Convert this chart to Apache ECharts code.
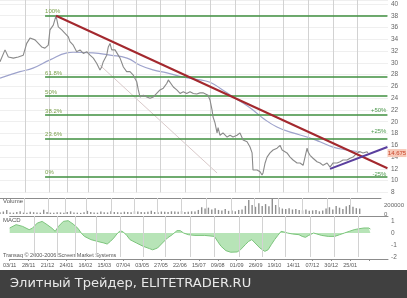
<!DOCTYPE html>
<html><head><meta charset="utf-8">
<script src="https://cdn.jsdelivr.net/npm/echarts@6/dist/echarts.min.js"></script>
<style>html,body{margin:0;padding:0;background:#fff}#c{width:407px;height:298px}</style>
</head><body><div id="c"></div>
<script>
// ---- data (x in trading days) ----
const dateLabels = ['03/11','28/11','21/12','24/01','16/02','15/03','07/04','03/05','27/05','22/06','15/07','09/08','01/09','26/09','19/10','14/11','07/12','30/12','25/01'];
const monthStarts = [21.9,43.2,58.5,77.4,99.3,119.8,140.2,162.1,184.0,206.0,227.0,248.0,269.9,291.8,312.9];
const priceDays = [0,4.4,7.3,11.7,16,20.4,23.4,26.3,30.7,33.6,36.5,39.4,42.3,43.8,46.7,49.1,51.1,54.1,57,59.9,61.3,64.2,67.2,70.1,73,76,78.9,81.8,84.8,87.6,89.1,90.5,93.5,94.9,96.4,97.9,100.8,102.3,105.2,108.1,111,113.9,116.8,119.8,121.2,122.7,125.6,128.6,131.5,134.4,137.3,140.2,143.1,146.1,147.5,149,151.9,154.9,157.8,160.6,163.6,166.5,169.4,172.4,175.3,177.9,182.3,184,185.8,186.7,188.4,190.2,191.1,192.8,195.4,199,201.6,204.2,207.7,210.3,213,216.5,219.1,220.9,221.7,225.2,226.1,227.9,229.6,230.5,232.3,234,236.6,239.3,242.8,245.4,247.2,248,251.5,254.2,256.8,260.3,262.9,265.6,269.1,269.9,271.7,274.3,277.8,280.5,283.1,286.6,289.2,291.9,295.4,298,300.6,304.1,306.7,309.4,312.9,315.5,318.1,321.6,322.5];
const priceValues = [30.2,32.2,31.0,30.8,31.0,31.3,33.3,34.2,33.9,33.3,32.7,32.5,33.0,35.6,36.4,38.0,36.1,35.6,35.0,34.4,33.6,33.0,31.9,32.2,31.6,31.9,31.3,30.8,29.9,28.8,29.3,30.2,31.3,32.7,33.3,32.2,32.2,31.9,30.8,29.3,28.5,28.5,27.9,26.8,25.4,24.2,24.5,24.2,24.0,24.2,24.8,25.4,25.7,26.5,27.1,26.8,25.9,25.4,24.8,25.1,24.8,25.1,24.8,24.7,24.9,24.9,24.5,23.7,22.0,20.8,19.8,18.1,19.0,17.7,18.1,17.4,17.7,17.4,17.7,18.1,16.9,16.6,15.7,14.7,11.8,11.8,12.1,11.5,10.95,11.3,13.0,14.0,14.7,15.2,15.5,16.0,15.2,14.9,14.7,14.0,13.5,13.0,13.0,12.6,15.5,14.9,14.3,13.8,13.2,13.0,12.6,13.0,12.3,13.0,13.0,13.2,13.5,13.5,13.8,14.0,14.7,14.9,14.7,14.9,14.7];
const maDays = [0,17.5,28.9,43.8,58.7,64,81.5,96.4,111.3,122.7,134.1,146.3,160.4,175.3,184,192.8,204.2,212.9,221.7,230.5,242.7,256.7,269,280.4,291.8,304.1,315.5];
const maValues = [27.4,28.5,29.1,30.5,31.7,31.8,31.7,31.3,30.8,29.6,28.8,28.3,27.6,27.1,26.7,25.7,24.2,23.2,22.0,20.6,19.1,18.1,17.4,16.6,15.7,15.2,14.9];
const fibNames = ['100%','61.8%','50%','38.2%','23.6%','0%'];
const fibLevels = [38.0,27.57,24.35,21.13,17.14,10.7];
const fibStartDay = 39.5, lineEndDay = 339.5;
const targetNames = ['+50%','+25%','-25%'];
const targetLevels = [22.0,18.34,11.0];
const lastPrice = 14.675;
const redTrend = [[49.1,38.0],[339.5,12.1]];
const purpleTrend = [[289.2,12.0],[339.5,15.7]];
const thinLine = [[87.6,29.6],[190.2,11.3]];
const volumeStep = 3;
const volumeK = [40,55,90,35,30,45,60,30,25,50,40,35,30,95,45,30,25,40,35,30,45,60,35,30,25,40,70,45,35,30,55,40,35,60,45,40,35,50,45,40,60,55,45,40,50,70,45,40,55,50,45,60,55,50,65,45,50,60,55,
 90,150,120,140,100,130,90,80,110,70,80,60,90,100,180,310,200,160,240,180,220,170,340,200,150,120,110,130,100,110,90,80,100,70,80,90,60,80,120,150,100,180,140,110,170,200,160,130,120];
const macdDays = [0,5.8,11.7,17.5,20.4,24.8,29.2,33.6,38,40.9,43.8,48.2,52.6,57,61.3,64.3,67.2,73,78.9,84.7,87.6,90.5,93.5,96.4,99.3,102.2,105.2,108.1,113.9,119.8,125.6,128.5,132.9,137.3,141.7,146.1,150.4,153.3,156.3,160.6,166.5,175.3,184,186.9,189.9,194.3,198.6,204.4,207.4,211.8,214.7,217.6,220.5,224.9,229.3,232.2,235.1,238.1,241,243.9,246.8,249.7,254.1,260,262.9,265.8,268.7,273.1,276,280.4,286.3,292.1,296.5,300.8,305.2,309.6,314,318.4,322.7,324.2];
const macdValues = [0.42,0.7,0.55,0.28,0.4,0.83,0.97,0.7,0.4,0.14,0.55,0.97,1.03,0.75,0.4,0,-0.28,-0.55,-0.7,-0.83,-0.92,-0.7,-0.42,-0.08,0.2,0.08,-0.2,-0.55,-0.83,-1.1,-1.3,-1.4,-1.25,-0.83,-0.42,-0.14,0.2,0.2,0,-0.14,-0.2,-0.2,-0.28,-0.7,-1.1,-1.47,-1.6,-1.58,-1.4,-0.97,-0.7,-0.55,-0.83,-1.25,-1.53,-1.4,-0.97,-0.55,-0.2,0.14,0.08,0,-0.08,-0.14,-0.28,-0.36,-0.2,0,-0.08,-0.2,-0.28,-0.28,-0.14,0,0.14,0.28,0.36,0.42,0.42,0.33];

// ---- chart ----
const zip = (a,b)=>a.map((d,i)=>[d,b[i]]);
const XMAX = 340, LABEL_STEP = 17;
const FONT = 'Liberation Sans';
const chart = echarts.init(document.getElementById('c'));
const hiddenX = (grid)=>({type:'value',gridIndex:grid,min:0,max:XMAX,interval:LABEL_STEP,show:false});
const lineX = (grid,pos)=>({type:'value',gridIndex:grid,min:0,max:XMAX,interval:LABEL_STEP,position:pos,
  axisLine:{show:true,onZero:false,lineStyle:{color:'#8c8c8c',width:1}},axisTick:{show:false},axisLabel:{show:false},splitLine:{show:false}});
const vlines = (xi,yi)=>({type:'line',xAxisIndex:xi,yAxisIndex:yi,data:[],silent:true,z:1,
  markLine:{silent:true,symbol:['none','none'],label:{show:false},animation:false,
    lineStyle:{color:'#d2d2d2',width:1,type:'solid'},data:monthStarts.map(d=>({xAxis:d}))}});
const axLabel = {fontSize:6.5,color:'#666',fontFamily:FONT,margin:3,showMaxLabel:false,formatter:v=>String(v)};

chart.setOption({
  animation:false,
  backgroundColor:'#fff',
  grid:[
    {left:0,right:19,top:0,height:192.4},
    {left:0,right:19,top:198,height:16},
    {left:0,right:19,top:216,height:41}
  ],
  xAxis:[
    hiddenX(0),
    lineX(1,'top'),
    lineX(2,'top'),
    {type:'value',gridIndex:2,min:0,max:XMAX,interval:LABEL_STEP,position:'bottom',offset:2,
      axisLine:{show:true,onZero:false,lineStyle:{color:'#8c8c8c'}},axisTick:{show:true,length:2,lineStyle:{color:'#8c8c8c'}},
      splitLine:{show:false},
      axisLabel:{fontSize:5.5,color:'#555',fontFamily:FONT,margin:3,showMaxLabel:false,hideOverlap:false,
        formatter:v=>dateLabels[Math.round(v/LABEL_STEP)]||''}}
  ],
  yAxis:[
    {type:'value',gridIndex:0,position:'right',min:8,max:40.67,interval:2,axisLine:{show:false},axisTick:{show:false},
      axisLabel:axLabel,splitLine:{show:true,lineStyle:{color:'#efefef'}}},
    {type:'value',gridIndex:1,position:'right',min:0,max:355000,interval:200000,axisLine:{show:false},axisTick:{show:false},
      axisLabel:Object.assign({},axLabel,{fontSize:6}),splitLine:{show:false}},
    {type:'value',gridIndex:2,position:'right',min:-2,max:1.42,interval:1,axisLine:{show:false},axisTick:{show:false},
      axisLabel:axLabel,splitLine:{show:false}}
  ],
  series:[
    vlines(0,0), vlines(1,1), vlines(2,2),
    {type:'line',xAxisIndex:0,yAxisIndex:0,data:[],silent:true,z:2,
      markLine:{silent:true,symbol:['none','none'],animation:false,
        lineStyle:{color:'#3f8f3f',width:1.6,type:'solid'},
        label:{show:true,position:'insideStartTop',distance:[0,1],fontSize:6,color:'#7aa04a',fontFamily:FONT,formatter:p=>p.name},
        data:fibLevels.map((v,i)=>[{name:fibNames[i],coord:[fibStartDay,v]},{coord:[lineEndDay,v]}])}},
    {type:'line',name:'thin',xAxisIndex:0,yAxisIndex:0,data:thinLine,symbol:'none',z:3,
      lineStyle:{color:'#d9c9c9',width:1}},
    {type:'line',name:'ma',xAxisIndex:0,yAxisIndex:0,data:zip(maDays,maValues),symbol:'none',smooth:true,z:4,
      lineStyle:{color:'#9ea3cc',width:1.2}},
    {type:'line',name:'price',xAxisIndex:0,yAxisIndex:0,data:zip(priceDays,priceValues),symbol:'none',z:5,
      lineStyle:{color:'#8a8a8a',width:1.1},
      markPoint:{silent:true,animation:false,symbol:'rect',symbolSize:[19,8],symbolOffset:[9,0],
        itemStyle:{color:'#f7c9b8'},
        label:{show:true,color:'#c8442a',fontSize:6,fontFamily:FONT,formatter:()=>lastPrice.toFixed(3)},
        data:[{coord:[XMAX,lastPrice]}]}},
    {type:'line',name:'red',xAxisIndex:0,yAxisIndex:0,data:redTrend,symbol:'none',z:6,
      lineStyle:{color:'#a3282e',width:2}},
    {type:'line',name:'purple',xAxisIndex:0,yAxisIndex:0,data:purpleTrend,symbol:'none',z:6,
      lineStyle:{color:'#5a3f9e',width:2}},
    {type:'line',xAxisIndex:0,yAxisIndex:0,data:[],silent:true,z:7,
      markPoint:{silent:true,animation:false,symbol:'circle',symbolSize:0,
        label:{show:true,position:'left',distance:1,fontSize:6,color:'#4f9a4f',fontFamily:FONT,formatter:p=>p.name},
        data:targetLevels.map((v,i)=>({name:targetNames[i],coord:[lineEndDay,v]}))}},
    {type:'bar',name:'volume',xAxisIndex:1,yAxisIndex:1,barWidth:1.4,z:4,
      itemStyle:{color:'#8f8f8f'},
      data:volumeK.map((v,i)=>[i*volumeStep,v*1000])},
    {type:'line',name:'macd',xAxisIndex:2,yAxisIndex:2,data:zip(macdDays,macdValues),symbol:'none',z:4,
      lineStyle:{color:'#7cc47c',width:1},areaStyle:{color:'#b7e4b7',opacity:1}}
  ],
  graphic:[
    {type:'text',left:3,top:198,style:{text:'Volume',fontSize:6,fill:'#555',fontFamily:FONT}},
    {type:'text',left:3,top:217,style:{text:'MACD',fontSize:6,fill:'#555',fontFamily:FONT}},
    {type:'text',left:3,top:252,style:{text:'Transaq © 2000-2006 Screen Market Systems',fontSize:5.5,fill:'#555',fontFamily:FONT}},
    {type:'rect',left:0,top:270,shape:{width:407,height:28},style:{fill:'#404040'}},
    {type:'text',left:10,top:277,style:{text:'Элитный Трейдер, ELITETRADER.RU',fontSize:13,fill:'#e8e8e8',fontFamily:'DejaVu Sans'}}
  ]
});
</script></body></html>
